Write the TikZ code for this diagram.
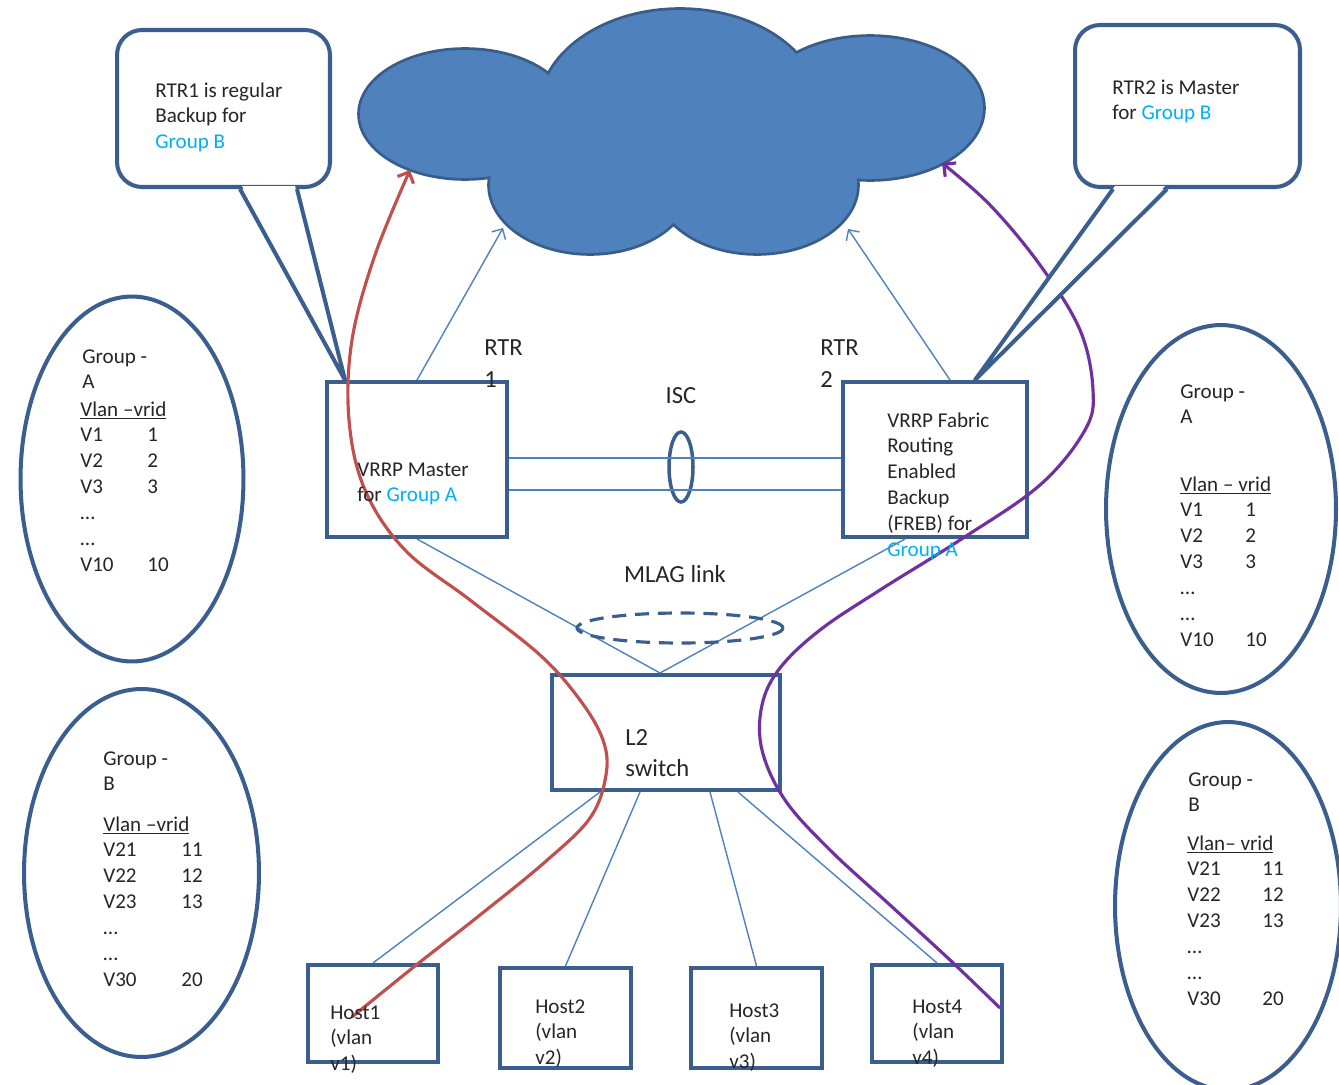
\documentclass[tikz,border=0pt]{standalone}
\usepackage{fontspec}
\setmainfont{Carlito}
\usetikzlibrary{arrows.meta,calc,shapes.geometric}
\definecolor{outl}{HTML}{3A5F8E}
\definecolor{thinb}{HTML}{4F81BD}
\definecolor{cloudf}{HTML}{4F81BD}
\definecolor{cloudo}{HTML}{385D8A}
\definecolor{redl}{HTML}{C0504D}
\definecolor{purp}{HTML}{7030A0}
\definecolor{cyant}{HTML}{00B0F0}
\definecolor{txt}{HTML}{262626}
\newcommand\grp[1]{\textcolor{cyant}{#1}}
\newcommand\vtab[2]{\begin{tabular}[t]{@{}p{#1}@{}l@{}}#2\end{tabular}}
\newcommand\ltab[1]{\begin{tabular}[t]{@{}l@{}}#1\end{tabular}}
\begin{document}
\begin{tikzpicture}[x=0.02cm,y=-0.02cm,
  box/.style={draw=outl,line width=2.3pt,inner sep=0pt},
  oval/.style={ellipse,draw=outl,line width=2.3pt,inner sep=0pt},
  bubble/.style={draw=outl,line width=2.3pt,fill=white,rounded corners=0.5cm,inner sep=0pt},
  tail/.style={draw=outl,line width=2.3pt,line join=round},
  thinl/.style={draw=thinb,line width=0.8pt},
  thinarr/.style={thinl,-{Straight Barb[length=4.5pt,width=9pt]}},
  lbl/.style={font=\fontsize{12}{14.75}\selectfont,text=txt,inner sep=0pt,anchor=base west},
  big/.style={font=\fontsize{14}{18.7}\selectfont,text=txt,inner sep=0pt},
  mlag/.style={draw=outl,line width=1.8pt,dash pattern=on 8pt off 5pt},
  redpath/.style={draw=redl,line width=1.8pt,-{Straight Barb[length=5pt,width=10pt]}},
  purppath/.style={draw=purp,line width=1.8pt,-{Straight Barb[length=5pt,width=10pt]}}
]
\useasboundingbox (0,0) rectangle (1339,1085);

% cloud
\foreach \cx/\cy/\rx/\ry in {465/114/105/64,680/110/140/100,870/108/113/71,590/185/100/68,757/185/100/68}
  \draw[cloudo,line width=3.2pt] (\cx,\cy) ellipse [x radius=\rx,y radius=\ry];
\foreach \cx/\cy/\rx/\ry in {465/114/105/64,680/110/140/100,870/108/113/71,590/185/100/68,757/185/100/68,680/140/200/75}
  \fill[cloudf] (\cx,\cy) ellipse [x radius=\rx,y radius=\ry];
\coordinate (cl1) at (503,228);
\coordinate (cl2) at (848,229);
\coordinate (re) at (410,170);
\coordinate (pe) at (942,163);

% side ovals
\node[oval,minimum width=4.46cm,minimum height=7.3cm] (ga1) at (132,479) {};
\node[oval,minimum width=4.7cm,minimum height=7.36cm] (gb1) at (141.5,873) {};
\node[oval,minimum width=4.6cm,minimum height=7.36cm] (ga2) at (1221,509) {};
\node[oval,minimum width=4.52cm,minimum height=7.36cm] (gb2) at (1228,906) {};

% boxes
\node[box,minimum width=3.6cm,minimum height=3.1cm] (r1) at (417,459.5) {};
\node[box,minimum width=3.68cm,minimum height=3.1cm] (r2) at (935,459.5) {};
\node[box,minimum width=4.56cm,minimum height=2.3cm] (sw) at (666,732.5) {};
\node[box,minimum width=2.6cm,minimum height=1.94cm] (h1) at (373,1013.5) {};
\node[box,minimum width=2.62cm,minimum height=2.0cm] (h2) at (565.5,1018) {};
\node[box,minimum width=2.62cm,minimum height=2.0cm] (h3) at (756.5,1018) {};
\node[box,minimum width=2.6cm,minimum height=1.94cm] (h4) at (937,1013.5) {};
\node[draw=outl,line width=2pt,ellipse,minimum width=0.48cm,minimum height=1.4cm,inner sep=0pt] (isc) at (681,467) {};

% thin links
\draw[thinarr] (r1.north) -- (cl1);
\draw[thinarr] ($(r2.north)+(15,0)$) -- (cl2);
\draw[thinl] ($(r1.east)+(0,-1.5)$) -- ($(r2.west)+(0,-1.5)$);
\draw[thinl] ($(r1.east)+(0,30.5)$) -- ($(r2.west)+(0,30.5)$);
\draw[thinl] (r1.south) -- ($(sw.north)+(-6,0)$);
\draw[thinl] ($(r2.south)+(-30,0)$) -- ($(sw.north)+(-6,0)$);
\draw[thinl] ($(sw.south)+(-66,0)$) -- (h1.north);
\draw[thinl] ($(sw.south)+(-26,0)$) -- (h2.north);
\draw[thinl] ($(sw.south)+(44,0)$) -- (h3.north);
\draw[thinl] ($(sw.south)+(72,0)$) -- (h4.north);
\node[mlag,ellipse,minimum width=4.12cm,minimum height=0.6cm,inner sep=0pt] (ml) at (680,628) {};

% red and purple flows
\coordinate (rs) at ($(h1.center)+(-21,3.5)$);
\coordinate (ps) at ($(h4.center)+(63,-5.5)$);
\draw[redpath] plot[smooth,tension=0.6] coordinates {(rs) (415,966) (480,915) (545,862) (590,818) (606,775) (603,740) (580,700) (540,655) (470,600) (405,550) (365,490) (349,420) (352,340) (375,255) (re)};
\draw[purppath] plot[smooth,tension=0.6] coordinates {(ps) (950,960) (890,905) (830,850) (785,800) (762,750) (762,705) (780,668) (820,630) (880,590) (960,540) (1040,485) (1085,430) (1093,390) (1080,330) (1040,265) (990,205) (pe)};

% callouts
\node[bubble,minimum width=4.26cm,minimum height=3.14cm] (c1) at (223.5,108.5) {};
\node[bubble,minimum width=4.5cm,minimum height=3.24cm] (c2) at (1187.5,106) {};
\coordinate (t1) at ($(r1.north west)+(20,0)$);
\coordinate (t2) at ($(r2.north)+(40,0)$);
\coordinate (c1a) at ($(c1.south)+(16.5,0)$);
\coordinate (c1b) at ($(c1.south)+(73.5,0)$);
\coordinate (c2a) at ($(c2.south)+(-74.5,0)$);
\coordinate (c2b) at ($(c2.south)+(-20.5,0)$);
\fill[white] ($(c1a)+(2,-3)$) -- (t1) -- ($(c1b)+(-2,-3)$) -- cycle;
\draw[tail] (c1a) -- (t1) -- (c1b);
\fill[white] ($(c2a)+(2,-3)$) -- (t2) -- ($(c2b)+(-2,-3)$) -- cycle;
\draw[tail] (c2a) -- (t2) -- (c2b);

% texts
\node[lbl] (c1t) at (155,97) {\ltab{RTR1 is regular\\Backup for\\\grp{Group B}}};
\node[lbl] (c2t) at (1112,94) {\ltab{RTR2 is Master\\for \grp{Group B}}};
\node[big,anchor=base west] (r1l) at (484,355) {\ltab{RTR\\1}};
\node[big,anchor=base west] (r2l) at (820,355) {\ltab{RTR\\2}};
\node[big] (iscl) at (681,396) {ISC};
\node[big] (mlagl) at (675,574) {MLAG link};
\node[lbl] (r1t) at (357,476) {\ltab{VRRP Master\\for \grp{Group A}}};
\node[lbl] (r2t) at (887,427) {\ltab{VRRP Fabric\\Routing\\Enabled\\Backup\\(FREB) for\\\grp{Group A}}};
\node[big,anchor=base west] (swt) at (625,745) {\begin{tabular}[t]{@{}l@{}}L2\\[-0.6pt]switch\end{tabular}};
\node[lbl] (h1t) at (330,1019) {\ltab{Host1\\(vlan\\v1)}};
\node[lbl] (h2t) at (535,1013) {\ltab{Host2\\(vlan\\v2)}};
\node[lbl] (h3t) at (729,1017) {\ltab{Host3\\(vlan\\v3)}};
\node[lbl] (h4t) at (912,1013) {\ltab{Host4\\(vlan\\v4)}};

\node[lbl] (ga1h) at (82,363) {\ltab{Group -\\A}};
\node[lbl] (ga1t) at (80,416) {\vtab{1.34cm}{\multicolumn{2}{@{}l@{}}{\underline{Vlan –vrid}}\\V1&1\\V2&2\\V3&3\\…&\\…&\\V10&10}};
\node[lbl] (gb1h) at (103,765) {\ltab{Group -\\B}};
\node[lbl] (gb1t) at (103,831) {\vtab{1.56cm}{\multicolumn{2}{@{}l@{}}{\underline{Vlan –vrid}}\\V21&11\\V22&12\\V23&13\\…&\\…&\\V30&20}};
\node[lbl] (ga2h) at (1180,398) {\ltab{Group -\\A}};
\node[lbl] (ga2t) at (1180,491) {\vtab{1.3cm}{\multicolumn{2}{@{}l@{}}{\underline{Vlan – vrid}}\\V1&1\\V2&2\\V3&3\\…&\\…&\\V10&10}};
\node[lbl] (gb2h) at (1188,786) {\ltab{Group -\\B}};
\node[lbl] (gb2t) at (1187,850) {\vtab{1.5cm}{\multicolumn{2}{@{}l@{}}{\underline{Vlan– vrid}}\\V21&11\\V22&12\\V23&13\\…&\\…&\\V30&20}};
\end{tikzpicture}
\end{document}
